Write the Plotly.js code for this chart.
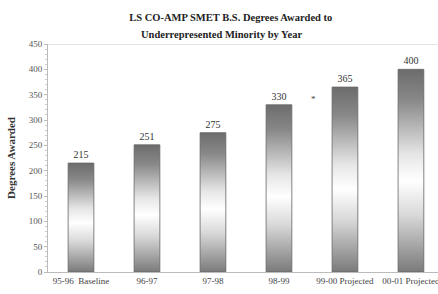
<!DOCTYPE html>
<html>
<head>
<meta charset="utf-8">
<script src="https://cdn.plot.ly/plotly-3.0.1.min.js"></script>
<style>html,body{margin:0;padding:0;background:#fff;}#chart{width:438px;height:294px;}</style>
</head>
<body>
<div id="chart"></div>
<script>
const categories = ["95-96  Baseline", "96-97", "97-98", "98-99", "99-00 Projected", "00-01 Projected"];
const degrees = [215, 251, 275, 330, 365, 400];
const valueLabels = ["215", "251", "275", "330", "365", "400"];
const yTickValues = [0, 50, 100, 150, 200, 250, 300, 350, 400, 450];
const titleLine1 = "LS CO-AMP SMET B.S. Degrees Awarded to";
const titleLine2 = "Underrepresented Minority by Year";

const serif = "Liberation Serif, Times New Roman, serif";

const trace = {
  type: "bar",
  x: categories,
  y: degrees,
  text: valueLabels,
  textposition: "outside",
  cliponaxis: false,
  constraintext: "none",
  textfont: {family: serif, size: 10, color: "#333"},
  width: 0.39,
  marker: {color: "#999", line: {color: "#666", width: 0.8}},
  hoverinfo: "none"
};

const layout = {
  width: 438, height: 294,
  margin: {l: 48, r: 0, t: 44, b: 22},
  paper_bgcolor: "#fff", plot_bgcolor: "#fff",
  showlegend: false,
  title: {
    text: "<b>" + titleLine1 + "</b>",
    font: {family: serif, size: 10.5, color: "#222"},
    x: 0.527, xanchor: "center", xref: "container",
    y: 0.942, yanchor: "middle", yref: "container"
  },
  xaxis: {
    type: "category",
    range: [-0.5, 5.41],
    showgrid: false, zeroline: false,
    showline: true, linecolor: "#bbb", linewidth: 1,
    ticks: "", tickfont: {family: serif, size: 9, color: "#444"},
    fixedrange: true
  },
  yaxis: {
    range: [0, 450],
    tickvals: yTickValues,
    showgrid: false, zeroline: false,
    showline: true, linecolor: "#bbb", linewidth: 1,
    ticks: "outside", ticklen: 3, tickcolor: "#bbb",
    minor: {ticks: "outside", ticklen: 2, tickcolor: "#ccc", dtick: 10},
    tickfont: {family: serif, size: 9, color: "#555"},
    title: {text: "<b>Degrees Awarded</b>", font: {family: serif, size: 11, color: "#333"}, standoff: 10},
    fixedrange: true
  },
  shapes: [
    {type: "line", xref: "paper", yref: "y", x0: 0, x1: 1, y0: 450, y1: 450, line: {color: "#ccc", width: 1}}
  ],
  annotations: [
    {x: 0.444, y: 1, xref: "paper", yref: "paper", xanchor: "center", yanchor: "bottom", yshift: 2,
     text: "<b>" + titleLine2 + "</b>", showarrow: false,
     font: {family: serif, size: 10.5, color: "#222"}},
    {x: "98-99", y: 330, xref: "x", yref: "y", text: "*", showarrow: false, xshift: 35, yshift: 6,
     font: {family: serif, size: 9, color: "#444"}}
  ]
};

Plotly.newPlot("chart", [trace], layout, {staticPlot: true, displayModeBar: false}).then(function(gd){
  const svg = gd.querySelector(".main-svg");
  const ns = "http://www.w3.org/2000/svg";
  let defs = svg.querySelector("defs");
  if (!defs) { defs = document.createElementNS(ns, "defs"); svg.insertBefore(defs, svg.firstChild); }
  const grad = document.createElementNS(ns, "linearGradient");
  grad.setAttribute("id", "barGrad");
  grad.setAttribute("x1", "0"); grad.setAttribute("y1", "0");
  grad.setAttribute("x2", "0"); grad.setAttribute("y2", "1");
  [["0", "#6c6c6c"], ["0.15", "#888888"], ["0.42", "#e6e6e6"], ["0.55", "#ffffff"], ["0.72", "#d8d8d8"], ["1", "#7a7a7a"]].forEach(function(s){
    const st = document.createElementNS(ns, "stop");
    st.setAttribute("offset", s[0]);
    st.setAttribute("stop-color", s[1]);
    grad.appendChild(st);
  });
  defs.appendChild(grad);
  gd.querySelectorAll(".bars .point path").forEach(function(p){
    p.style.fill = "url(#barGrad)";
    p.style.fillOpacity = "1";
  });
});
</script>
</body>
</html>
